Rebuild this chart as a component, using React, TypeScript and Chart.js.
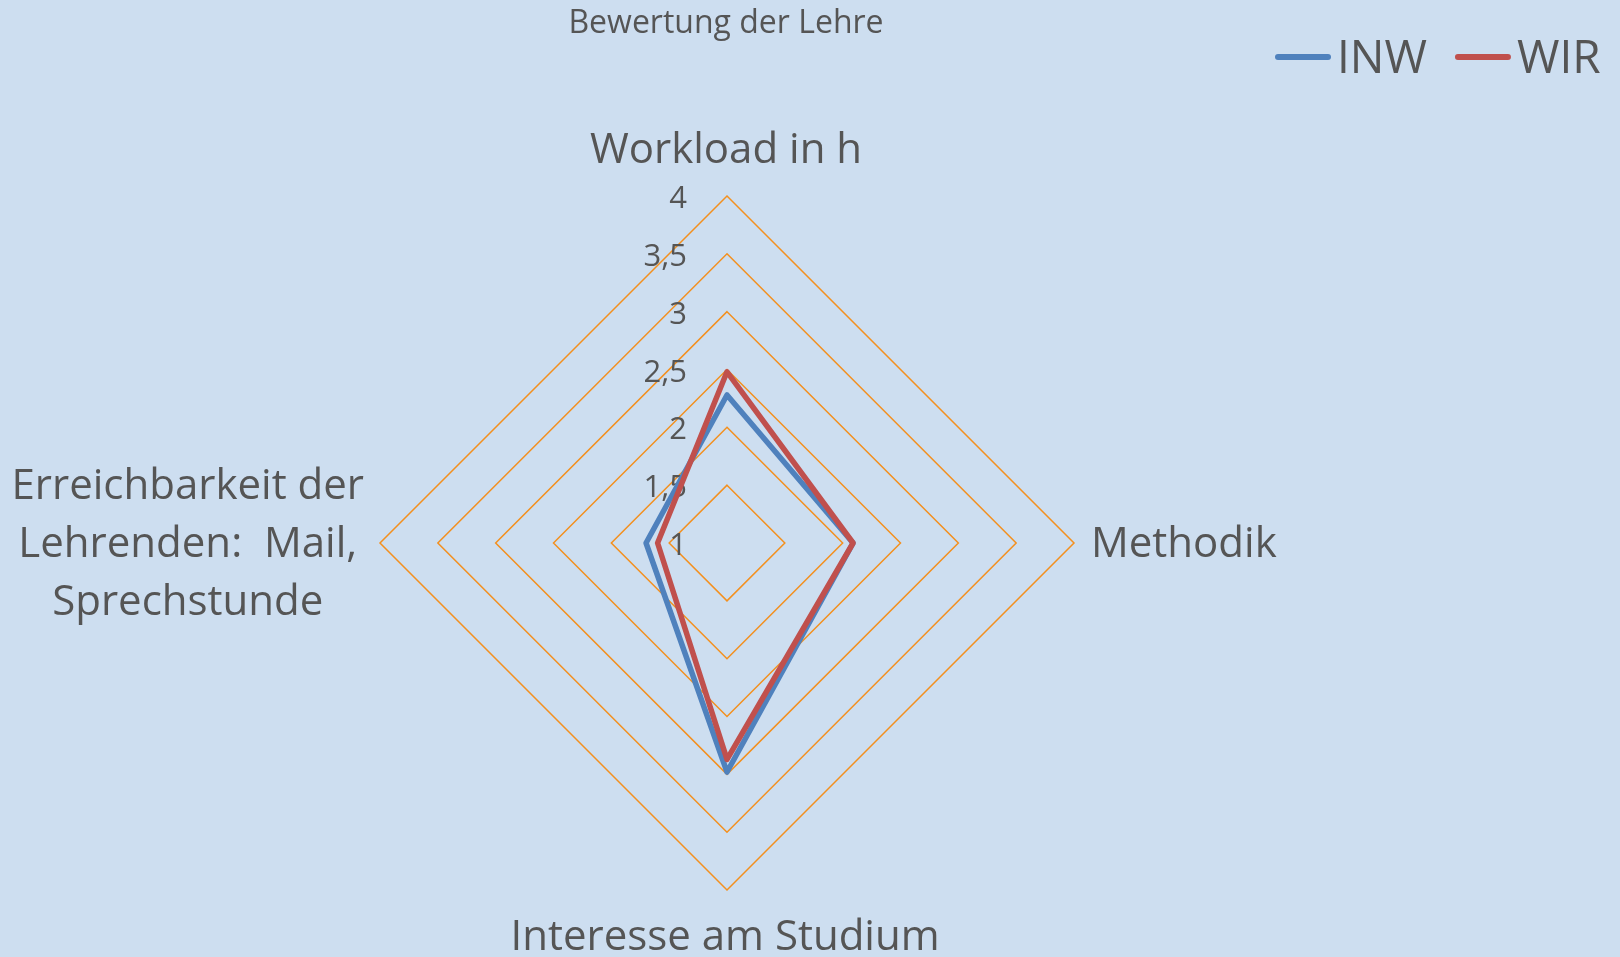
import React, { useEffect, useRef } from "react";
import { Chart, registerables } from "chart.js";

Chart.register(...registerables);

const TITLE = "Bewertung der Lehre";
const CATEGORIES: string[][] = [
  ["Workload in h"],
  ["Methodik"],
  ["Interesse am Studium"],
  ["Erreichbarkeit der", "Lehrenden:  Mail,", "Sprechstunde"],
];
const SERIES_NAMES = ["INW", "WIR"];
const INW_VALUES = [2.28, 2.09, 2.98, 1.7];
const WIR_VALUES = [2.48, 2.09, 2.87, 1.6];
const TICK_VALUES = [1, 1.5, 2, 2.5, 3, 3.5, 4];
const TICK_LABELS = ["1", "1,5", "2", "2,5", "3", "3,5", "4"];

const COLORS = ["#4F81BD", "#C0504D"];
const GRID_COLOR = "#F4901E";
const TEXT_COLOR = "#555555";
const BG_COLOR = "#CDDEF0";
const FONT = '"Open Sans", sans-serif';

const bgPlugin = {
  id: "bg",
  beforeDraw(chart: any) {
    const ctx = chart.ctx;
    ctx.save();
    ctx.fillStyle = BG_COLOR;
    ctx.fillRect(0, 0, chart.width, chart.height);
    ctx.restore();
  },
};

const tickPlugin = {
  id: "tickLabels",
  beforeDatasetsDraw(chart: any) {
    const s = chart.scales.r;
    const ctx = chart.ctx;
    ctx.save();
    ctx.fillStyle = TEXT_COLOR;
    ctx.font = `31px ${FONT}`;
    ctx.textAlign = "right";
    ctx.textBaseline = "alphabetic";
    TICK_VALUES.forEach((v, i) => {
      const y = s.yCenter - s.getDistanceFromCenterForValue(v);
      ctx.fillText(TICK_LABELS[i], s.xCenter - 40, y + 12);
    });
    ctx.restore();
  },
};

const textPlugin = {
  id: "texts",
  afterDraw(chart: any) {
    const s = chart.scales.r;
    const ctx = chart.ctx;
    ctx.save();
    ctx.fillStyle = TEXT_COLOR;
    ctx.textBaseline = "alphabetic";

    // title
    ctx.font = `32px ${FONT}`;
    ctx.textAlign = "center";
    ctx.fillText(TITLE, s.xCenter - 1, 33);

    // point labels
    ctx.font = `42px ${FONT}`;
    const lh = 58;
    const cap = 30;
    CATEGORIES.forEach((lines, i) => {
      const a = s.getIndexAngle(i) - Math.PI / 2;
      const c = Math.cos(a);
      const sn = Math.sin(a);
      if (Math.abs(c) < 0.2) {
        ctx.textAlign = "center";
        if (sn < 0) {
          const p = s.getPointPosition(i, s.drawingArea + 33);
          lines.forEach((t, k) => ctx.fillText(t, p.x - 1, p.y - (lines.length - 1 - k) * lh));
        } else {
          const p = s.getPointPosition(i, s.drawingArea + 30);
          lines.forEach((t, k) => ctx.fillText(t, p.x - 2, p.y + cap + k * lh));
        }
      } else if (c > 0) {
        const p = s.getPointPosition(i, s.drawingArea + 17);
        ctx.textAlign = "left";
        const y0 = p.y + 14 - ((lines.length - 1) / 2) * lh;
        lines.forEach((t, k) => ctx.fillText(t, p.x, y0 + k * lh));
      } else {
        const p = s.getPointPosition(i, s.drawingArea + 16);
        const maxW = Math.max(...lines.map((t) => ctx.measureText(t).width));
        ctx.textAlign = "center";
        const y0 = p.y + 14 - ((lines.length - 1) / 2) * lh;
        lines.forEach((t, k) => ctx.fillText(t, p.x - maxW / 2, y0 + k * lh));
      }
    });

    // legend
    ctx.font = `46px ${FONT}`;
    ctx.textAlign = "left";
    let x = 1275;
    SERIES_NAMES.forEach((name, i) => {
      ctx.strokeStyle = COLORS[i];
      ctx.lineWidth = 6;
      ctx.lineCap = "round";
      ctx.beginPath();
      ctx.moveTo(x + 3, 57);
      ctx.lineTo(x + 53, 57);
      ctx.stroke();
      ctx.fillText(name, x + 62, 73);
      x += 62 + ctx.measureText(name).width + 28;
    });
    ctx.restore();
  },
};

export default function App() {
  const ref = useRef<HTMLCanvasElement | null>(null);
  useEffect(() => {
    if (!ref.current) return;
    const chart = new Chart(ref.current, {
      type: "radar",
      data: {
        labels: CATEGORIES.map((l) => l.join(" ")),
        datasets: [
          {
            label: SERIES_NAMES[0],
            data: INW_VALUES,
            borderColor: COLORS[0],
            backgroundColor: COLORS[0],
            borderWidth: 5.5,
            fill: false,
            pointRadius: 0,
            borderJoinStyle: "round",
            borderCapStyle: "round",
            order: 1,
          },
          {
            label: SERIES_NAMES[1],
            data: WIR_VALUES,
            borderColor: COLORS[1],
            backgroundColor: COLORS[1],
            borderWidth: 5.5,
            fill: false,
            pointRadius: 0,
            borderJoinStyle: "round",
            borderCapStyle: "round",
            order: 0,
          },
        ],
      },
      options: {
        animation: false,
        responsive: false,
        maintainAspectRatio: false,
        layout: { padding: { left: 380, right: 546, top: 196, bottom: 67 } },
        plugins: {
          legend: { display: false },
          title: { display: false },
          tooltip: { enabled: false },
        },
        scales: {
          r: {
            min: 1,
            max: 4,
            beginAtZero: false,
            ticks: { stepSize: 0.5, display: false },
            grid: { color: GRID_COLOR, lineWidth: 1.5 },
            angleLines: { display: false },
            pointLabels: { display: false },
          },
        },
      },
      plugins: [bgPlugin, tickPlugin, textPlugin],
    });
    return () => chart.destroy();
  }, []);
  return (
    <div style={{ position: "fixed", left: 0, top: 0, width: 1620, height: 957, background: BG_COLOR }}>
      <canvas ref={ref} width={1620} height={957} style={{ display: "block" }} />
    </div>
  );
}
